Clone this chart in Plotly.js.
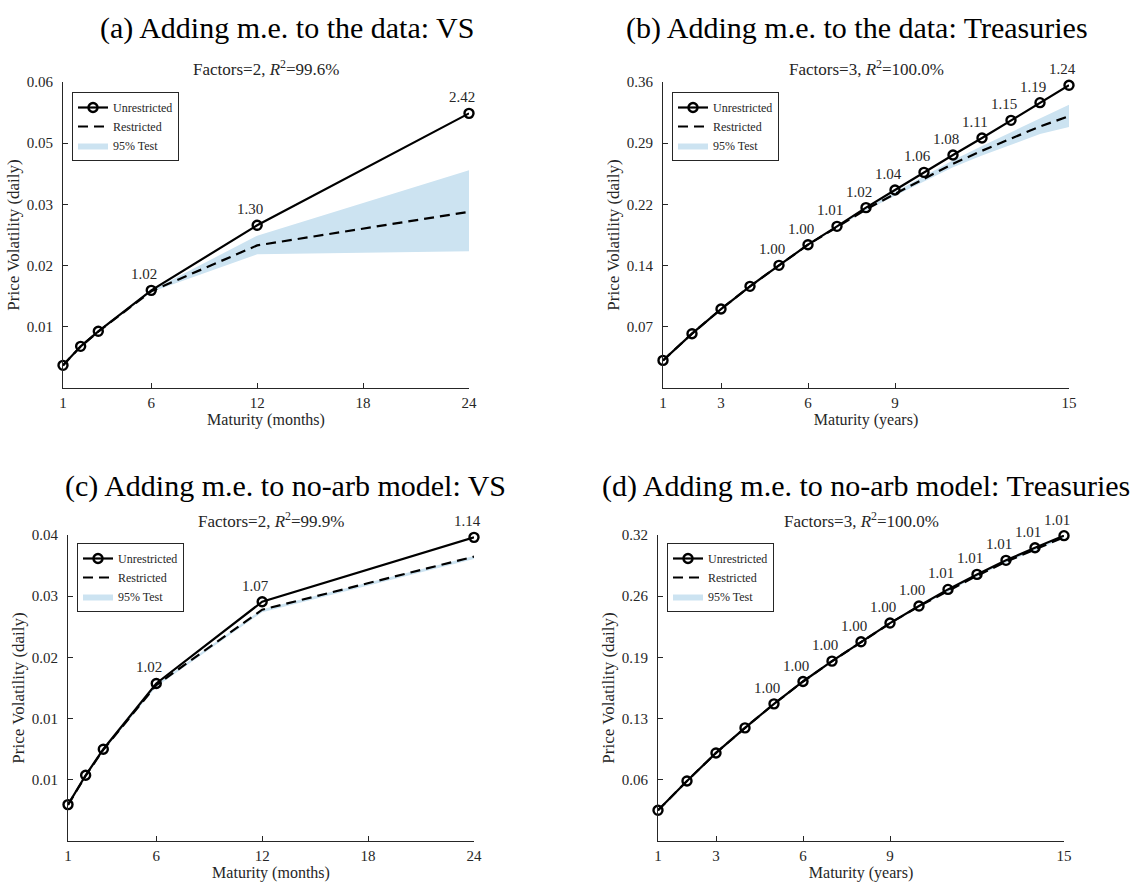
<!DOCTYPE html>
<html>
<head>
<meta charset="utf-8">
<script src="https://cdn.plot.ly/plotly-3.0.1.min.js"></script>
<style>
  html, body { margin: 0; padding: 0; background: #ffffff; }
  #chart { width: 1140px; height: 886px; }
</style>
</head>
<body>
<div id="chart"></div>
<script>
// ---------------- Data ----------------
// Maturities
const maturityMonths = [1, 2, 3, 6, 12, 24];
const maturityYears = [1, 2, 3, 4, 5, 6, 7, 8, 9, 10, 11, 12, 13, 14, 15];

// Panel (a): Adding m.e. to the data: VS
const unrestrictedA = [0.00426, 0.00783, 0.01065, 0.01835, 0.03057, 0.05161];
const restrictedA   = [0.00424, 0.00780, 0.01060, 0.01818, 0.02680, 0.03310];
const bandLowA      = [0.00420, 0.00775, 0.01055, 0.01805, 0.02512, 0.02568];
const bandHighA     = [0.00430, 0.00788, 0.01068, 0.01832, 0.02862, 0.04090];
const ratioLabelsA  = ['', '', '', '1.02', '1.30', '2.42'];

// Panel (b): Adding m.e. to the data: Treasuries
const unrestrictedB = [0.0325, 0.0639, 0.0929, 0.1196, 0.1443, 0.1686, 0.1902, 0.2122, 0.2329, 0.2537, 0.2741, 0.2941, 0.3149, 0.3357, 0.3561];
const restrictedB   = [0.0325, 0.0639, 0.0929, 0.1196, 0.1443, 0.1686, 0.1893, 0.2101, 0.2284, 0.2464, 0.2638, 0.2791, 0.2936, 0.3077, 0.3198];
const bandLowB      = [0.0324, 0.0638, 0.0928, 0.1194, 0.1440, 0.1682, 0.1885, 0.2088, 0.2262, 0.2432, 0.2596, 0.2735, 0.2864, 0.2988, 0.3071];
const bandHighB     = [0.0326, 0.0640, 0.0930, 0.1198, 0.1446, 0.1690, 0.1900, 0.2114, 0.2306, 0.2496, 0.2680, 0.2847, 0.3008, 0.3166, 0.3333];
const ratioLabelsB  = ['', '', '', '', '1.00', '1.00', '1.01', '1.02', '1.04', '1.06', '1.08', '1.11', '1.15', '1.19', '1.24'];

// Panel (c): Adding m.e. to no-arb model: VS
const unrestrictedC = [0.00434, 0.00784, 0.01095, 0.01879, 0.02854, 0.03622];
const restrictedC   = [0.00430, 0.00778, 0.01088, 0.01860, 0.02759, 0.03392];
const bandLowC      = [0.00425, 0.00770, 0.01075, 0.01840, 0.02730, 0.03365];
const bandHighC     = [0.00435, 0.00785, 0.01095, 0.01870, 0.02765, 0.03400];
const ratioLabelsC  = ['', '', '', '1.02', '1.07', '1.14'];

// Panel (d): Adding m.e. to no-arb model: Treasuries
const unrestrictedD = [0.0321, 0.0628, 0.0921, 0.1183, 0.1434, 0.1668, 0.1881, 0.2083, 0.2279, 0.2457, 0.2631, 0.2788, 0.2935, 0.3067, 0.3193];
const restrictedD   = [0.0321, 0.0628, 0.0921, 0.1183, 0.1434, 0.1668, 0.1880, 0.2082, 0.2277, 0.2455, 0.2618, 0.2774, 0.2920, 0.3052, 0.3177];
const bandLowD      = [0.0318, 0.0625, 0.0918, 0.1180, 0.1430, 0.1664, 0.1875, 0.2077, 0.2271, 0.2448, 0.2611, 0.2766, 0.2911, 0.3042, 0.3166];
const bandHighD     = [0.0323, 0.0630, 0.0923, 0.1186, 0.1437, 0.1672, 0.1885, 0.2087, 0.2283, 0.2461, 0.2625, 0.2782, 0.2929, 0.3062, 0.3188];
const ratioLabelsD  = ['', '', '', '', '1.00', '1.00', '1.00', '1.00', '1.00', '1.00', '1.01', '1.01', '1.01', '1.01', '1.01'];

// Panel texts
const panelTitles = [
  '(a) Adding m.e. to the data: VS',
  '(b) Adding m.e. to the data: Treasuries',
  '(c) Adding m.e. to no-arb model: VS',
  '(d) Adding m.e. to no-arb model: Treasuries'
];
const panelSubtitles = [
  'Factors=2, <i>R</i><sup>2</sup>=99.6%',
  'Factors=3, <i>R</i><sup>2</sup>=100.0%',
  'Factors=2, <i>R</i><sup>2</sup>=99.9%',
  'Factors=3, <i>R</i><sup>2</sup>=100.0%'
];
const seriesNames = ['Unrestricted', 'Restricted', '95% Test'];
const yAxisTitle = 'Price Volatility (daily)';
const xAxisTitles = ['Maturity (months)', 'Maturity (years)', 'Maturity (months)', 'Maturity (years)'];

// Tick values and labels
const xTicksMonths = [1, 6, 12, 18, 24];
const xTicksYears = [1, 3, 6, 9, 15];
const yTickValsA = [0.0115, 0.023, 0.0345, 0.046, 0.0575];
const yTickTextA = ['0.01', '0.02', '0.03', '0.05', '0.06'];
const yTickValsB = [0.072, 0.144, 0.216, 0.288, 0.36];
const yTickTextB = ['0.07', '0.14', '0.22', '0.29', '0.36'];
const yTickValsC = [0.0073, 0.0146, 0.0219, 0.0292, 0.0365];
const yTickTextC = ['0.01', '0.01', '0.02', '0.03', '0.04'];
const yTickValsD = [0.064, 0.128, 0.192, 0.256, 0.32];
const yTickTextD = ['0.06', '0.13', '0.19', '0.26', '0.32'];

// ---------------- Build ----------------
const FONT = 'Liberation Serif, Times New Roman, serif';
const AX = '#262626';
const BAND = 'rgb(204,227,241)';
const W = 1140, H = 886;

const panels = [
  {x: maturityMonths, u: unrestrictedA, r: restrictedA, lo: bandLowA, hi: bandHighA, lab: ratioLabelsA,
   xt: xTicksMonths, yv: yTickValsA, yt: yTickTextA, xr: [1, 24], yr: [0, 0.0575],
   px: [63, 469], py: [82, 388], leg: [72, 92], titleXY: [287, 28], subY: 68},
  {x: maturityYears, u: unrestrictedB, r: restrictedB, lo: bandLowB, hi: bandHighB, lab: ratioLabelsB,
   xt: xTicksYears, yv: yTickValsB, yt: yTickTextB, xr: [1, 15], yr: [0, 0.36],
   px: [663, 1069], py: [82, 388], leg: [672, 92], titleXY: [857, 28], subY: 68},
  {x: maturityMonths, u: unrestrictedC, r: restrictedC, lo: bandLowC, hi: bandHighC, lab: ratioLabelsC,
   xt: xTicksMonths, yv: yTickValsC, yt: yTickTextC, xr: [1, 24], yr: [0, 0.0365],
   px: [68, 474], py: [535, 841], leg: [77, 543], titleXY: [285, 486], subY: 520},
  {x: maturityYears, u: unrestrictedD, r: restrictedD, lo: bandLowD, hi: bandHighD, lab: ratioLabelsD,
   xt: xTicksYears, yv: yTickValsD, yt: yTickTextD, xr: [1, 15], yr: [0, 0.32],
   px: [658, 1064], py: [535, 841], leg: [667, 543], titleXY: [866, 486], subY: 520}
];

const traces = [];
const annotations = [];
const layout = {
  width: W, height: H,
  margin: {l: 0, r: 0, t: 0, b: 0},
  paper_bgcolor: '#ffffff',
  plot_bgcolor: 'rgba(0,0,0,0)',
  font: {family: FONT, color: AX, size: 15},
  showlegend: true,
  annotations: annotations
};

panels.forEach((p, i) => {
  const n = i === 0 ? '' : String(i + 1);
  const xa = 'x' + n, ya = 'y' + n;
  const legName = 'legend' + n;

  // band lower bound (hidden)
  traces.push({
    x: p.x, y: p.lo, xaxis: xa, yaxis: ya, type: 'scatter', mode: 'lines',
    line: {width: 0, color: BAND}, showlegend: false, hoverinfo: 'skip', legend: legName
  });
  // band upper bound filled
  traces.push({
    x: p.x, y: p.hi, xaxis: xa, yaxis: ya, type: 'scatter', mode: 'lines',
    fill: 'tonexty', fillcolor: BAND, line: {width: 0, color: BAND},
    name: seriesNames[2], legend: legName, legendrank: 3
  });
  // restricted dashed
  traces.push({
    x: p.x, y: p.r, xaxis: xa, yaxis: ya, type: 'scatter', mode: 'lines',
    line: {color: '#000000', width: 2.2, dash: '10px,6px'},
    name: seriesNames[1], legend: legName, legendrank: 2, cliponaxis: false
  });
  // unrestricted solid with circles
  traces.push({
    x: p.x, y: p.u, xaxis: xa, yaxis: ya, type: 'scatter', mode: 'lines+markers',
    line: {color: '#000000', width: 2.2},
    marker: {symbol: 'circle-open', size: 9, color: '#000000', line: {width: 2.4, color: '#000000'}},
    name: seriesNames[0], legend: legName, legendrank: 1, cliponaxis: false
  });

  layout['xaxis' + n] = {
    domain: [p.px[0] / W, p.px[1] / W],
    anchor: ya, range: p.xr, tickmode: 'array', tickvals: p.xt,
    ticks: 'inside', ticklen: 5, tickcolor: AX, tickwidth: 1,
    showline: true, linecolor: AX, linewidth: 1, showgrid: false, zeroline: false,
    tickfont: {family: FONT, size: 15, color: AX}, ticklabelstandoff: 1,
    title: {text: xAxisTitles[i], font: {family: FONT, size: 16, color: AX}, standoff: 3},
    automargin: false
  };
  layout['yaxis' + n] = {
    domain: [1 - p.py[1] / H, 1 - p.py[0] / H],
    anchor: xa, range: p.yr, tickmode: 'array', tickvals: p.yv, ticktext: p.yt,
    ticks: 'inside', ticklen: 5, tickcolor: AX, tickwidth: 1,
    showline: true, linecolor: AX, linewidth: 1, showgrid: false, zeroline: false,
    tickfont: {family: FONT, size: 15, color: AX}, ticklabelstandoff: 6,
    title: {text: yAxisTitle, font: {family: FONT, size: 17, color: AX}, standoff: 2},
    automargin: false
  };
  layout[legName] = {
    x: p.leg[0] / W, y: 1 - p.leg[1] / H, xanchor: 'left', yanchor: 'top',
    xref: 'paper', yref: 'paper',
    bgcolor: '#ffffff', bordercolor: AX, borderwidth: 1,
    font: {family: FONT, size: 12, color: AX}, itemwidth: 30, tracegroupgap: 0,
    traceorder: 'normal'
  };

  // ratio labels over the unrestricted markers
  p.lab.forEach((t, k) => {
    if (!t) return;
    annotations.push({
      xref: xa, yref: ya, x: p.x[k], y: p.u[k], text: t, showarrow: false,
      xanchor: 'center', yanchor: 'bottom', xshift: -7, yshift: 6,
      font: {family: FONT, size: 15, color: AX}
    });
  });

  // subtitle
  annotations.push({
    xref: 'paper', yref: 'paper', x: (p.px[0] + p.px[1]) / 2 / W, y: 1 - p.subY / H,
    xanchor: 'center', yanchor: 'middle', showarrow: false, text: panelSubtitles[i],
    font: {family: FONT, size: 17, color: AX}
  });
  // panel title
  annotations.push({
    xref: 'paper', yref: 'paper', x: p.titleXY[0] / W, y: 1 - p.titleXY[1] / H,
    xanchor: 'center', yanchor: 'middle', showarrow: false, text: panelTitles[i],
    font: {family: FONT, size: 30, color: '#000000'}
  });
});

Plotly.newPlot('chart', traces, layout, {displayModeBar: false, staticPlot: true});
</script>
</body>
</html>
